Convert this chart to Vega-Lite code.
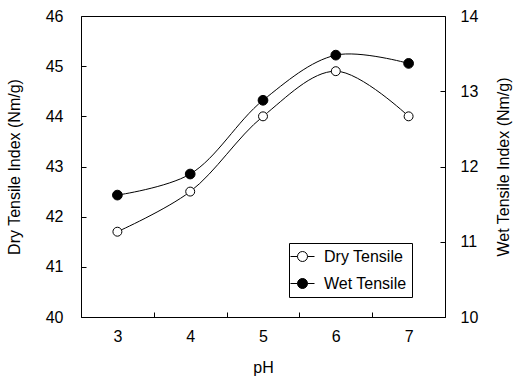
{
  "$schema": "https://vega.github.io/schema/vega-lite/v6.json",
  "width": 364,
  "height": 301,
  "autosize": "none",
  "padding": {"left": 81, "top": 16, "right": 71, "bottom": 70},
  "background": "white",
  "config": {
    "font": "Liberation Sans",
    "view": {"stroke": "black", "strokeWidth": 1},
    "axis": {
      "labelFont": "Liberation Sans",
      "titleFont": "Liberation Sans",
      "labelFontSize": 16,
      "titleFontSize": 16,
      "titleFontWeight": "normal",
      "labelColor": "black",
      "titleColor": "black",
      "domainColor": "black",
      "tickColor": "black",
      "grid": false
    },
    "legend": {
      "orient": "none", "legendX": 208, "legendY": 227, "title": null,
      "symbolSize": 256, "symbolStrokeColor": "black", "symbolStrokeWidth": 1,
      "labelFont": "Liberation Sans", "labelFontSize": 16, "labelColor": "black",
      "labelOffset": 13, "strokeColor": "black", "fillColor": "white",
      "padding": 5, "rowPadding": 10
    }
  },
  "data": {
    "values": [
      {"pH": 3, "dry": 41.7, "wet": 11.62},
      {"pH": 4, "dry": 42.5, "wet": 11.9},
      {"pH": 5, "dry": 44.0, "wet": 12.88},
      {"pH": 6, "dry": 44.9, "wet": 13.48},
      {"pH": 7, "dry": 44.0, "wet": 13.37}
    ]
  },
  "layer": [
    {
      "encoding": {
        "x": {
          "field": "pH", "type": "quantitative",
          "scale": {"domain": [2.5, 7.5], "nice": false},
          "axis": {"orient": "bottom", "values": [3, 4, 5, 6, 7], "ticks": false, "labelPadding": 11, "title": "pH", "titlePadding": 15}
        },
        "y": {
          "field": "dry", "type": "quantitative",
          "scale": {"domain": [40, 46], "nice": false, "zero": false},
          "axis": {"orient": "left", "values": [40, 41, 42, 43, 44, 45, 46], "offset": -5, "tickSize": 5, "domain": false, "labelPadding": 18, "title": "Dry Tensile Index (Nm/g)", "titlePadding": 23}
        }
      },
      "layer": [
        {"mark": {"type": "line", "interpolate": "catmull-rom", "color": "black", "strokeWidth": 1}},
        {
          "mark": {"type": "point", "filled": true, "size": 80, "stroke": "black", "strokeWidth": 1, "opacity": 1},
          "encoding": {
            "fill": {
              "datum": "Dry Tensile", "type": "nominal",
              "scale": {"domain": ["Dry Tensile", "Wet Tensile"], "range": ["white", "black"]},
              "legend": {
                "title": null,
                "encoding": {
                  "symbols": {
                    "shape": {"value": "M-1.5,0L-0.625,0M0.625,0L1.5,0M-0.625,0A0.625,0.625 0 1,0 0.625,0A0.625,0.625 0 1,0 -0.625,0Z"},
                    "size": {"value": 256}
                  }
                }
              }
            }
          }
        }
      ]
    },
    {
      "encoding": {
        "x": {
          "field": "pH", "type": "quantitative",
          "scale": {"domain": [2.5, 7.5], "nice": false},
          "axis": {"orient": "bottom", "values": [3.5, 4.5, 5.5, 6.5], "labels": false, "domain": false, "offset": -5, "tickSize": 5, "title": null}
        },
        "y": {
          "field": "wet", "type": "quantitative",
          "scale": {"domain": [10, 14], "nice": false, "zero": false},
          "axis": {"orient": "right", "values": [10, 11, 12, 13, 14], "offset": -5, "tickSize": 5, "domain": false, "labelPadding": 15, "title": "Wet Tensile Index (Nm/g)", "titleAngle": 270, "titlePadding": 34}
        }
      },
      "layer": [
        {"mark": {"type": "line", "interpolate": "catmull-rom", "color": "black", "strokeWidth": 1}},
        {
          "mark": {"type": "point", "filled": true, "size": 95, "stroke": "black", "strokeWidth": 1, "opacity": 1},
          "encoding": {
            "fill": {
              "datum": "Wet Tensile", "type": "nominal",
              "legend": {
                "title": null,
                "encoding": {
                  "symbols": {
                    "shape": {"value": "M-1.5,0L-0.625,0M0.625,0L1.5,0M-0.625,0A0.625,0.625 0 1,0 0.625,0A0.625,0.625 0 1,0 -0.625,0Z"},
                    "size": {"value": 256}
                  }
                }
              }
            }
          }
        }
      ]
    }
  ],
  "resolve": {"scale": {"y": "independent"}, "axis": {"x": "independent"}}
}
